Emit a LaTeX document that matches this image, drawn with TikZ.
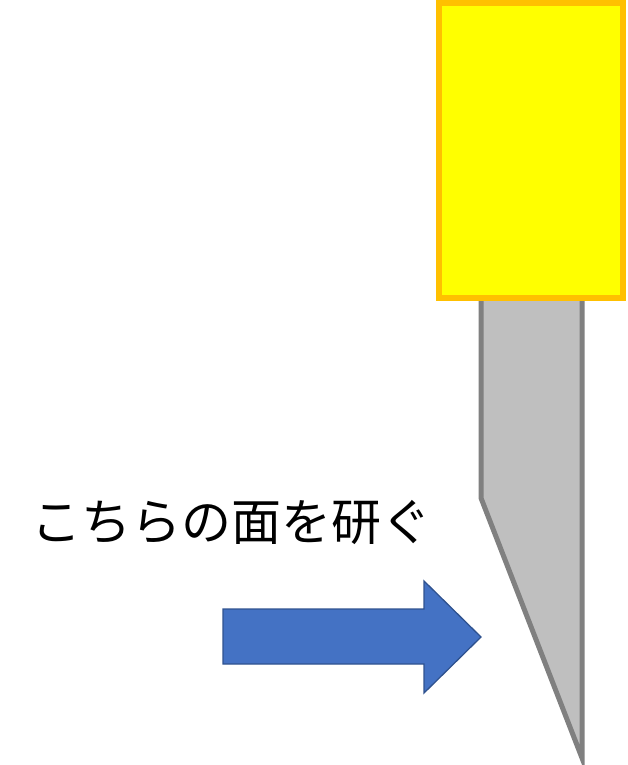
\documentclass[tikz,border=0pt]{standalone}
\usepackage{fontspec}
\newfontfamily\jpfont{Noto Sans CJK JP}
\definecolor{handle}{HTML}{FFFF00}
\definecolor{handleedge}{HTML}{FFC000}
\definecolor{blade}{HTML}{BFBFBF}
\definecolor{bladeedge}{HTML}{808080}
\definecolor{arrowfill}{HTML}{4472C4}
\definecolor{arrowedge}{HTML}{2F528F}

\begin{document}
\begin{tikzpicture}[x=1pt, y=-1pt]
  \useasboundingbox (0,0) rectangle (627,765);
  \draw[fill=handle, draw=handleedge, line width=5.5pt] (439,3) rectangle (623,298);
  \draw[fill=blade, draw=bladeedge, line width=5pt, line join=miter] (481,301) -- (481,498) -- (582,758) -- (582,301);
  \draw[fill=arrowfill, draw=arrowedge, line width=1.3pt] (223,609) -- (424,609) -- (424,581) -- (481,637) -- (424,693) -- (424,664) -- (223,664) -- cycle;
  \node[inner sep=0pt] (label) at (231,522) {\jpfont\fontsize{50}{52}\selectfont こちらの面を研ぐ};
\end{tikzpicture}
\end{document}
